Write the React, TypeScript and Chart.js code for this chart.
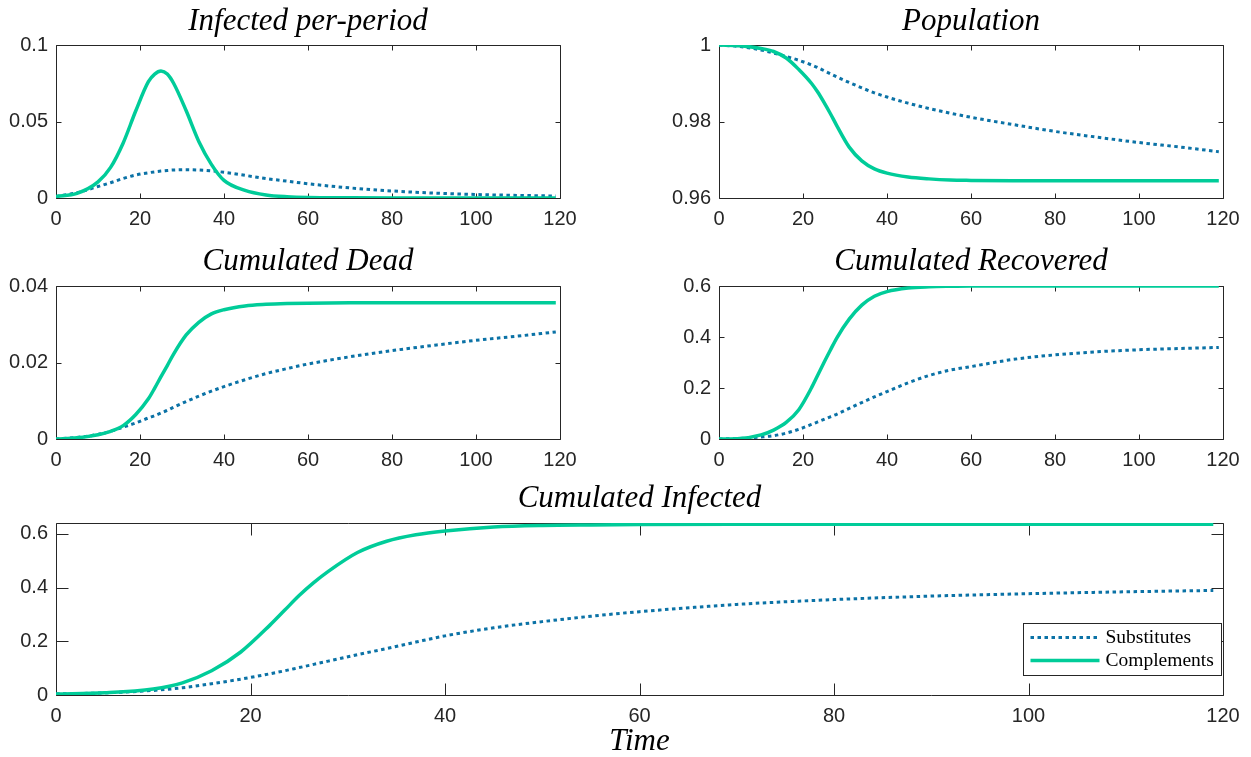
import React, { useEffect, useRef } from 'react';
import { Chart, registerables } from 'chart.js';

Chart.register(...registerables);

// ---- data ----
const T = [0, 5, 10, 13, 16, 19, 22, 23.5, 25, 26.5, 28, 31, 34, 37, 40, 45, 50, 55, 60, 70, 80, 90, 100, 110, 119];

const infSub = [0.001, 0.0035, 0.0075, 0.010, 0.0128, 0.015, 0.0165, 0.0171, 0.0176, 0.018, 0.0183, 0.0185, 0.0183, 0.0177, 0.0168, 0.0148, 0.0127, 0.011, 0.0093, 0.0066, 0.0046, 0.0032, 0.0023, 0.0017, 0.0013];
const infComp = [0.001, 0.003, 0.0105, 0.020, 0.036, 0.057, 0.076, 0.081, 0.083, 0.081, 0.075, 0.057, 0.037, 0.022, 0.0115, 0.005, 0.002, 0.0008, 0.0003, 0.0001, 0, 0, 0, 0, 0];

const popSub = [1.0, 0.9996, 0.9987, 0.9979, 0.997, 0.996, 0.9948, 0.9941, 0.9933, 0.9925, 0.9917, 0.9902, 0.9888, 0.9875, 0.9864, 0.9848, 0.9834, 0.9822, 0.9811, 0.9792, 0.9774, 0.9759, 0.9745, 0.9733, 0.9721];
const popComp = [1.0, 0.9998, 0.9991, 0.9983, 0.9966, 0.9936, 0.99, 0.9877, 0.985, 0.9821, 0.979, 0.9733, 0.9697, 0.9676, 0.9665, 0.9655, 0.965, 0.9647, 0.9646, 0.9645, 0.9645, 0.9645, 0.9645, 0.9645, 0.9645];

const deadSub = [0, 0.0004, 0.0012, 0.002, 0.0031, 0.0042, 0.0055, 0.0061, 0.0068, 0.0075, 0.0083, 0.0098, 0.0112, 0.0125, 0.0137, 0.0155, 0.0171, 0.0184, 0.0196, 0.0215, 0.0231, 0.0245, 0.0258, 0.0269, 0.028];
const deadComp = [0, 0.0003, 0.0011, 0.002, 0.0035, 0.0064, 0.0105, 0.0133, 0.0163, 0.0192, 0.0222, 0.0272, 0.0305, 0.0327, 0.0338, 0.0348, 0.0352, 0.0354, 0.0355, 0.0356, 0.0356, 0.0356, 0.0356, 0.0356, 0.0356];

const recSub = [0, 0.002, 0.008, 0.013, 0.023, 0.038, 0.057, 0.067, 0.077, 0.087, 0.097, 0.12, 0.143, 0.165, 0.186, 0.22, 0.249, 0.27, 0.284, 0.312, 0.33, 0.342, 0.35, 0.355, 0.359];
const recComp = [0, 0.002, 0.016, 0.035, 0.065, 0.115, 0.2, 0.25, 0.3, 0.348, 0.395, 0.47, 0.525, 0.56, 0.578, 0.592, 0.597, 0.599, 0.6, 0.6, 0.6, 0.6, 0.6, 0.6, 0.6];

const cumSub = [0.004, 0.008, 0.017, 0.027, 0.042, 0.059, 0.079, 0.09, 0.102, 0.114, 0.126, 0.15, 0.173, 0.197, 0.22, 0.25, 0.273, 0.293, 0.31, 0.337, 0.355, 0.368, 0.377, 0.384, 0.389];
const cumComp = [0.004, 0.008, 0.022, 0.045, 0.09, 0.16, 0.26, 0.315, 0.37, 0.418, 0.46, 0.53, 0.572, 0.596, 0.61, 0.625, 0.631, 0.633, 0.634, 0.635, 0.635, 0.635, 0.635, 0.635, 0.635];

const xTicks = [0, 20, 40, 60, 80, 100, 120];
const yTicksInf = [0, 0.05, 0.1];
const yTicksPop = [0.96, 0.98, 1];
const yTicksDead = [0, 0.02, 0.04];
const yTicksRec = [0, 0.2, 0.4, 0.6];
const yTicksCum = [0, 0.2, 0.4, 0.6];

const seriesNames = ['Substitutes', 'Complements'];

// ---- styles ----
const SUB_COLOR = '#0B72A6';
const COMP_COLOR = '#00CC99';
const AXIS_COLOR = '#262626';
const TICK_FONT = { family: '"Liberation Sans", Arial, sans-serif', size: 20 };
const TITLE_SIZE = 31;
const TITLE_FONT = { family: '"Liberation Serif", "Times New Roman", serif', style: 'italic' as const, weight: 'normal' as const, size: TITLE_SIZE, lineHeight: 1 };
const YW = 56;
const RP = 28;

type PanelCfg = {
  title: string;
  sub: number[];
  comp: number[];
  yMin: number;
  yMax: number;
  yTicks: number[];
  left: number; top: number; w: number; h: number;
  titleH: number; padTop: number;
  xAxisH: number;
  tickLen: number;
  xTitle?: string;
  legend?: boolean;
};

const panels: PanelCfg[] = [
  { title: 'Infected per-period', sub: infSub, comp: infComp, yMin: 0, yMax: 0.1, yTicks: yTicksInf,
    left: 56, top: 45, w: 504, h: 153, titleH: 45, padTop: 6, xAxisH: 40, tickLen: 5 },
  { title: 'Population', sub: popSub, comp: popComp, yMin: 0.96, yMax: 1, yTicks: yTicksPop,
    left: 719, top: 45, w: 504, h: 153, titleH: 45, padTop: 6, xAxisH: 40, tickLen: 5 },
  { title: 'Cumulated Dead', sub: deadSub, comp: deadComp, yMin: 0, yMax: 0.04, yTicks: yTicksDead,
    left: 56, top: 286, w: 504, h: 153, titleH: 40, padTop: 0, xAxisH: 40, tickLen: 5 },
  { title: 'Cumulated Recovered', sub: recSub, comp: recComp, yMin: 0, yMax: 0.6, yTicks: yTicksRec,
    left: 719, top: 286, w: 504, h: 153, titleH: 40, padTop: 0, xAxisH: 40, tickLen: 5 },
  { title: 'Cumulated Infected', sub: cumSub, comp: cumComp, yMin: 0, yMax: 0.64, yTicks: yTicksCum,
    left: 56, top: 523, w: 1167, h: 172, titleH: 45, padTop: 5, xAxisH: 62, tickLen: 12, xTitle: 'Time', legend: true },
];

const fmt = (v: number) => String(parseFloat(v.toFixed(4)));

function framePlugin(tickLen: number) {
  return {
    id: 'frame',
    beforeDatasetsDraw(chart: any) {
      const { ctx, chartArea, scales } = chart;
      const snap = (v: number) => Math.round(v) + 0.5;
      const l = snap(chartArea.left);
      const r = snap(chartArea.right);
      const t = snap(chartArea.top);
      const b = snap(chartArea.bottom);
      ctx.save();
      ctx.strokeStyle = AXIS_COLOR;
      ctx.lineWidth = 1;
      ctx.beginPath();
      ctx.rect(l, t, r - l, b - t);
      for (const tk of scales.x.ticks) {
        const px = snap(scales.x.getPixelForValue(tk.value));
        ctx.moveTo(px, b); ctx.lineTo(px, b - tickLen);
        ctx.moveTo(px, t); ctx.lineTo(px, t + tickLen);
      }
      for (const tk of scales.y.ticks) {
        const py = snap(scales.y.getPixelForValue(tk.value));
        ctx.moveTo(l, py); ctx.lineTo(l + tickLen, py);
        ctx.moveTo(r, py); ctx.lineTo(r - tickLen, py);
      }
      ctx.stroke();
      ctx.restore();
    },
  };
}

const legendPlugin = {
  id: 'boxLegend',
  afterDraw(chart: any) {
    const { ctx, chartArea } = chart;
    const w = 198, h = 52;
    const x0 = Math.round(chartArea.right - 2 - w) + 0.5;
    const y0 = Math.round(chartArea.bottom - 20 - h) + 0.5;
    ctx.save();
    ctx.fillStyle = '#ffffff';
    ctx.fillRect(x0, y0, w, h);
    ctx.strokeStyle = AXIS_COLOR;
    ctx.lineWidth = 1;
    ctx.strokeRect(x0, y0, w, h);
    const rows = [y0 + 14, y0 + 37];
    chart.data.datasets.forEach((ds: any, i: number) => {
      const y = rows[i];
      ctx.beginPath();
      ctx.strokeStyle = ds.borderColor;
      ctx.lineWidth = ds.borderWidth;
      ctx.setLineDash(ds.borderDash || []);
      ctx.moveTo(x0 + 7, y);
      ctx.lineTo(x0 + 76, y);
      ctx.stroke();
      ctx.setLineDash([]);
      ctx.fillStyle = '#000';
      ctx.font = '19.5px "Liberation Serif", "Times New Roman", serif';
      ctx.textBaseline = 'middle';
      ctx.textAlign = 'left';
      ctx.fillText(ds.label, x0 + 82, y);
    });
    ctx.restore();
  },
};

function Panel({ cfg }: { cfg: PanelCfg }) {
  const ref = useRef<HTMLCanvasElement>(null);
  const cw = YW + cfg.w + RP;
  const ch = cfg.titleH + cfg.h + cfg.xAxisH;
  const cl = cfg.left - YW;
  const ct = cfg.top - cfg.titleH;

  useEffect(() => {
    const toPts = (arr: number[]) => T.map((t, i) => ({ x: t, y: arr[i] }));
    const chart = new Chart(ref.current as HTMLCanvasElement, {
      type: 'line',
      data: {
        datasets: [
          {
            label: seriesNames[0], data: toPts(cfg.sub), borderColor: SUB_COLOR, borderWidth: 3,
            borderDash: [3.5, 3.5], borderCapStyle: 'butt', pointRadius: 0, fill: false,
            cubicInterpolationMode: 'monotone', order: 1,
          },
          {
            label: seriesNames[1], data: toPts(cfg.comp), borderColor: COMP_COLOR, borderWidth: 3.5,
            pointRadius: 0, fill: false, cubicInterpolationMode: 'monotone', order: 0,
          },
        ],
      },
      options: {
        animation: false,
        responsive: false,
        maintainAspectRatio: false,
        events: [],
        layout: { padding: { left: 0, right: RP, top: 0, bottom: 0 } },
        plugins: {
          legend: { display: false },
          tooltip: { enabled: false },
          title: {
            display: true, text: cfg.title, color: '#000', fullSize: false,
            font: TITLE_FONT, padding: { top: cfg.padTop, bottom: cfg.titleH - TITLE_SIZE - cfg.padTop },
          },
        },
        scales: {
          x: {
            type: 'linear', min: 0, max: 120,
            grid: { display: false, drawTicks: false }, border: { display: false },
            ticks: { font: TICK_FONT, color: AXIS_COLOR, padding: 9, maxRotation: 0, autoSkip: false, callback: (v: any) => fmt(Number(v)) },
            afterBuildTicks: (s: any) => { s.ticks = xTicks.map((v) => ({ value: v })); },
            afterFit: (s: any) => { s.height = cfg.xAxisH; s.paddingLeft = 0; s.paddingRight = 0; },
            title: cfg.xTitle
              ? { display: true, text: cfg.xTitle, color: '#000', font: TITLE_FONT, padding: { top: 0, bottom: 0 } }
              : { display: false },
          },
          y: {
            type: 'linear', min: cfg.yMin, max: cfg.yMax,
            grid: { display: false, drawTicks: false }, border: { display: false },
            ticks: { font: TICK_FONT, color: AXIS_COLOR, padding: 8, autoSkip: false, callback: (v: any) => fmt(Number(v)) },
            afterBuildTicks: (s: any) => { s.ticks = cfg.yTicks.map((v) => ({ value: v })); },
            afterFit: (s: any) => { s.width = YW; s.paddingTop = 0; s.paddingBottom = 0; },
          },
        },
      } as any,
      plugins: cfg.legend ? [framePlugin(cfg.tickLen), legendPlugin] : [framePlugin(cfg.tickLen)],
    });
    return () => chart.destroy();
  }, []);

  return (
    <canvas
      ref={ref}
      width={cw}
      height={ch}
      style={{ position: 'absolute', left: cl, top: ct, width: cw, height: ch, display: 'block' }}
    />
  );
}

export default function App() {
  return (
    <div style={{ position: 'absolute', left: 0, top: 0, width: 1251, height: 757, background: '#fff', overflow: 'hidden' }}>
      {panels.map((p, i) => (
        <Panel key={i} cfg={p} />
      ))}
    </div>
  );
}
